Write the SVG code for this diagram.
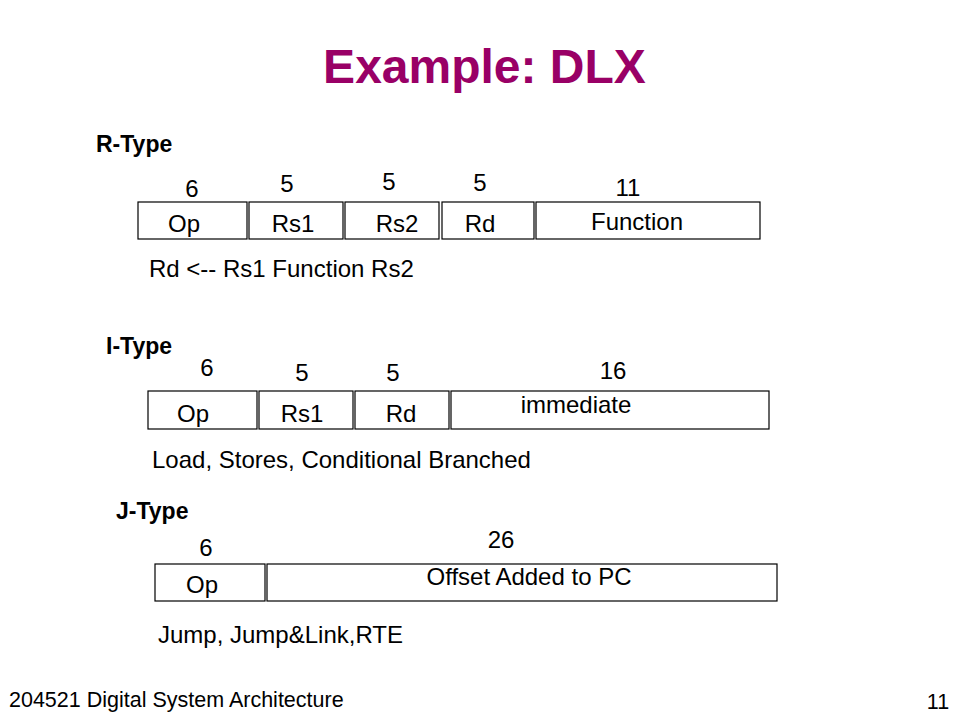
<svg xmlns="http://www.w3.org/2000/svg" width="960" height="720" viewBox="0 0 960 720">
<style>
text{font-family:"Liberation Sans",Arial,sans-serif;fill:#000}
.t{font-size:24px}
.c{text-anchor:middle}
.h{font-size:23px;font-weight:bold}
.title{font-size:48px;font-weight:bold;fill:#990066;text-anchor:middle}
.f{font-size:21.5px}
rect.b{fill:#fff;stroke:#000;stroke-width:1.2}
</style>
<rect width="960" height="720" fill="#fff"/>
<text class="title" x="484.5" y="83">Example: DLX</text>

<g id="rtype">
<text class="h" x="96" y="152">R-Type</text>
<g id="r-op"><rect class="b" x="138" y="202" width="109" height="37"/><text class="t c" x="184" y="232">Op</text><text class="t c" x="192" y="197">6</text></g>
<g id="r-rs1"><rect class="b" x="249" y="202" width="94" height="37"/><text class="t c" x="293" y="232">Rs1</text><text class="t c" x="287" y="192">5</text></g>
<g id="r-rs2"><rect class="b" x="345" y="202" width="94" height="37"/><text class="t c" x="397" y="232">Rs2</text><text class="t c" x="389" y="190">5</text></g>
<g id="r-rd"><rect class="b" x="442" y="202" width="92" height="37"/><text class="t c" x="480" y="232">Rd</text><text class="t c" x="480" y="191">5</text></g>
<g id="r-fn"><rect class="b" x="536" y="202" width="224" height="37"/><text class="t c" x="637" y="230">Function</text><text class="t c" x="628" y="196">11</text></g>
<text class="t" x="149" y="277">Rd &lt;-- Rs1 Function Rs2</text>
</g>

<g id="itype">
<text class="h" x="106" y="354">I-Type</text>
<g id="i-op"><rect class="b" x="148" y="391" width="109" height="38"/><text class="t c" x="193" y="422">Op</text><text class="t c" x="207" y="376">6</text></g>
<g id="i-rs1"><rect class="b" x="259" y="391" width="94" height="38"/><text class="t c" x="302" y="422">Rs1</text><text class="t c" x="302" y="381">5</text></g>
<g id="i-rd"><rect class="b" x="355" y="391" width="94" height="38"/><text class="t c" x="401" y="422">Rd</text><text class="t c" x="393" y="381">5</text></g>
<g id="i-imm"><rect class="b" x="451" y="391" width="318" height="38"/><text class="t c" x="576" y="413">immediate</text><text class="t c" x="613" y="379">16</text></g>
<text class="t" x="152" y="468">Load, Stores, Conditional Branched</text>
</g>

<g id="jtype">
<text class="h" x="116" y="519">J-Type</text>
<g id="j-op"><rect class="b" x="155" y="564" width="110" height="37"/><text class="t c" x="202" y="593">Op</text><text class="t c" x="206" y="556">6</text></g>
<g id="j-off"><rect class="b" x="267" y="564" width="510" height="37"/><text class="t c" x="529" y="585">Offset Added to PC</text><text class="t c" x="501" y="548">26</text></g>
<text class="t" x="158" y="643">Jump, Jump&amp;Link,RTE</text>
</g>

<g id="connectors"></g>

<text class="f" x="9" y="707">204521 Digital System Architecture</text>
<text class="f c" x="938" y="709">11</text>
</svg>
